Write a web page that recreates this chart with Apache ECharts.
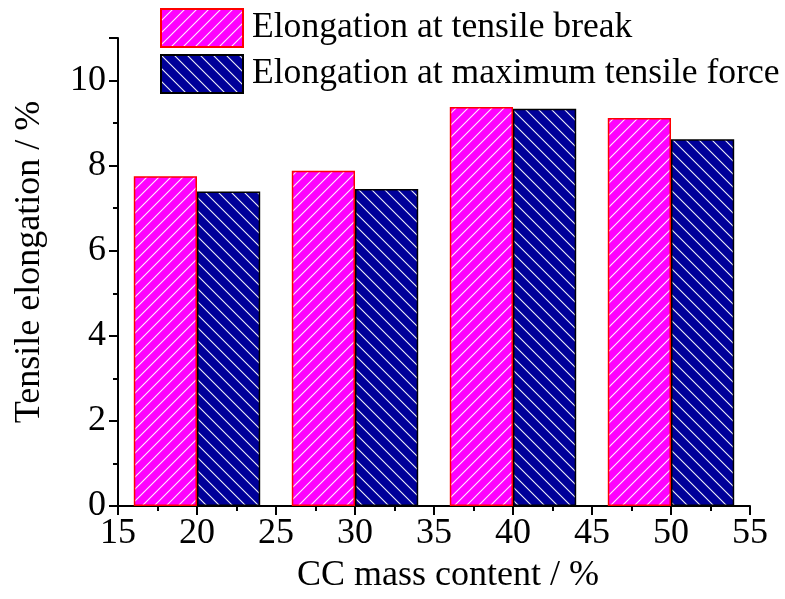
<!DOCTYPE html>
<html>
<head>
<meta charset="utf-8">
<script src="https://cdn.jsdelivr.net/npm/echarts@6/dist/echarts.min.js"></script>
<style>html,body{margin:0;padding:0;background:#fff}#c{width:785px;height:599px}</style>
</head>
<body>
<div id="c"></div>
<script>
// Data
const massContent = [20, 30, 40, 50];
const breakElongation = [7.75, 7.88, 9.38, 9.12];
const maxForceElongation = [7.39, 7.45, 9.34, 8.62];
const seriesNames = ['Elongation at tensile break', 'Elongation at maximum tensile force'];
const xTicks = {min: 15, max: 55, interval: 5};
const yTicks = {min: 0, max: 11, interval: 2};

function hatch(bg, size, dir) {
  const c = document.createElement('canvas');
  c.width = size; c.height = size;
  const g = c.getContext('2d');
  g.fillStyle = bg; g.fillRect(0, 0, size, size);
  g.strokeStyle = 'rgba(255,255,255,0.95)';
  g.lineWidth = 1.1;
  for (let k = -1; k <= 1; k++) {
    g.beginPath();
    if (dir > 0) { g.moveTo(k * size - 1, size + 1); g.lineTo(k * size + size + 1, -1); }
    else { g.moveTo(k * size - 1, -1); g.lineTo(k * size + size + 1, size + 1); }
    g.stroke();
  }
  return {image: c, repeat: 'repeat'};
}

const gridLeft = 118, gridRight = 35;
const chartW = 785;
const unitPx = (chartW - gridLeft - gridRight) / (xTicks.max - xTicks.min);
const barW = unitPx * 4;

const font = 'Liberation Serif, Times New Roman, serif';
const fs = 36;
const chart = echarts.init(document.getElementById('c'));
chart.setOption({
  animation: false,
  legend: {
    orient: 'vertical', left: 160, top: 8, padding: 0,
    icon: 'rect',
    itemWidth: 82, itemHeight: 38, itemGap: 6,
    textStyle: {fontFamily: font, fontSize: 35.6, color: '#000', padding: [0, 0, 0, 4]},
    data: seriesNames
  },
  grid: {left: gridLeft, right: gridRight, top: 38, bottom: 93},
  xAxis: {
    type: 'value', min: xTicks.min, max: xTicks.max, interval: xTicks.interval,
    name: 'CC mass content / %', nameLocation: 'middle', nameGap: 52,
    nameTextStyle: {fontFamily: font, fontSize: fs, color: '#000', padding: [0, 0, 0, 28]},
    axisLine: {lineStyle: {color: '#000', width: 2}},
    axisTick: {inside: false, length: 9, lineStyle: {color: '#000', width: 2}},
    minorTick: {show: true, splitNumber: 2, length: 5, lineStyle: {color: '#000', width: 2}},
    splitLine: {show: false},
    axisLabel: {fontFamily: font, fontSize: fs, color: '#000', margin: 10}
  },
  yAxis: {
    type: 'value', min: yTicks.min, max: yTicks.max, interval: yTicks.interval,
    name: 'Tensile elongation / %', nameLocation: 'middle', nameGap: 70,
    nameTextStyle: {fontFamily: font, fontSize: fs, color: '#000', padding: [0, 0, 0, 20]},
    axisLine: {show: true, lineStyle: {color: '#000', width: 2}},
    axisTick: {show: true, inside: false, length: 9, lineStyle: {color: '#000', width: 2}},
    minorTick: {show: true, splitNumber: 2, length: 5, lineStyle: {color: '#000', width: 2}},
    splitLine: {show: false},
    axisLabel: {fontFamily: font, fontSize: fs, color: '#000', margin: 12,
      showMaxLabel: false}
  },
  series: [
    {
      name: seriesNames[0], type: 'bar', barWidth: barW, barGap: '0%',
      data: massContent.map((x, i) => [x, breakElongation[i]]),
      itemStyle: {color: hatch('#ff00ff', 12, 1), borderColor: '#ff0000', borderWidth: 1.5}
    },
    {
      name: seriesNames[1], type: 'bar', barWidth: barW, barGap: '0%',
      data: massContent.map((x, i) => [x, maxForceElongation[i]]),
      itemStyle: {color: hatch('#000099', 13, -1), borderColor: '#000000', borderWidth: 1.5}
    }
  ]
});
</script>
</body>
</html>
